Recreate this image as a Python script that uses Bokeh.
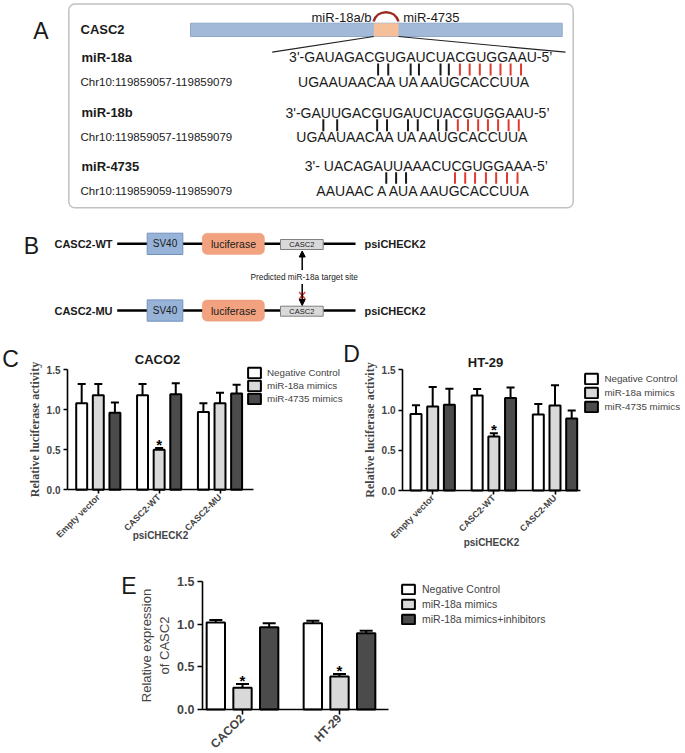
import math
from bokeh.plotting import figure
from bokeh.layouts import column, row
from bokeh.models import (Range1d, BoxAnnotation, Arrow, NormalHead, Label, LinearAxis,
                          FixedTicker, NumeralTickFormatter)
from bokeh.core.properties import value
from bokeh.embed import file_html
from bokeh.resources import INLINE

SANS = "Liberation Sans"
SERIF = "Liberation Serif"

# ======================= DATA =======================
# Panel A
gene_label = "CASC2"
site_labels = ["miR-18a/b", "miR-4735"]
mir_names = ["miR-18a", "miR-18b", "miR-4735"]
mir_loci = ["Chr10:119859057-119859079", "Chr10:119859057-119859079",
            "Chr10:119859059-119859079"]
mir_seqs = ["3'-GAUAGACGUGAUCUACGUGGAAU-5\u2019",
            "3'-GAUUGACGUGAUCUACGUGGAAU-5\u2019",
            "3'- UACAGAUUAAACUCGUGGAAA-5\u2019"]
target_seqs = ["UGAAUAACAA UA AAUGCACCUUA",
               "UGAAUAACAA UA AAUGCACCUUA",
               "AAUAAC A AUA AAUGCACCUUA"]

# Panel B
constructs = ["CASC2-WT", "CASC2-MU"]
vector_name = "psiCHECK2"
element_names = ["SV40", "luciferase", "CASC2"]
site_note = "Predicted miR-18a target site"

# Panels C and D (relative luciferase activity)
luc_groups = ["Empty vector", "CASC2-WT", "CASC2-MU"]
luc_series = ["Negative Control", "miR-18a mimics", "miR-4735 mimics"]
caco2_nc = [1.08, 1.18, 0.97]
caco2_nc_sem = [0.24, 0.14, 0.11]
caco2_mimic = [1.18, 0.50, 1.08]
caco2_mimic_sem = [0.14, 0.02, 0.13]
caco2_4735 = [0.96, 1.19, 1.20]
caco2_4735_sem = [0.13, 0.14, 0.11]
caco2_sig = [1]

ht29_nc = [0.95, 1.18, 0.945]
ht29_nc_sem = [0.11, 0.08, 0.13]
ht29_mimic = [1.045, 0.67, 1.057]
ht29_mimic_sem = [0.24, 0.04, 0.25]
ht29_4735 = [1.065, 1.15, 0.895]
ht29_4735_sem = [0.20, 0.13, 0.10]
ht29_sig = [1]

# Panel E (relative expression of CASC2)
expr_groups = ["CACO2", "HT-29"]
expr_series = ["Negative Control", "miR-18a mimics", "miR-18a mimics+inhibitors"]
expr_nc = [1.02, 1.01]
expr_nc_sem = [0.03, 0.03]
expr_mimic = [0.254, 0.387]
expr_mimic_sem = [0.045, 0.03]
expr_inh = [0.965, 0.894]
expr_inh_sem = [0.045, 0.03]
expr_sig = [0, 1]

y_ticks = [0.0, 0.5, 1.0, 1.5]
bar_colors = ["#ffffff", "#d9d9d9", "#4b4b4b"]

# Arial/Liberation Sans advance widths (em), used to lay out the base-pair ticks
REG_W = {' ': .278, "'": .191, '\u2019': .222, '-': .333, 'A': .667, 'C': .722,
         'G': .778, 'U': .722}
for d in "0123456789":
    REG_W[d] = .556


def text_width(s, size):
    return sum(REG_W.get(c, .556) for c in s) * size


# ======================= PANELS A + B (schematic, page pixels) =======================
top = figure(width=685, height=328, x_range=Range1d(0, 685), y_range=Range1d(328, 0),
             output_backend="svg", toolbar_location=None, min_border=0,
             x_axis_location=None, y_axis_location=None, frame_align=False)
top.grid.visible = False
top.outline_line_color = None


def t(fig, x, y, s, size, align="left", font=SANS, style="normal", color="#1a1a1a"):
    fig.text(x=[x], y=[y], text=[s], text_align=align, text_baseline="middle",
             text_font=value(font), text_font_size=f"{size}px",
             text_font_style=style, text_color=color)


t(top, 40.5, 30, "A", 23, "center")
t(top, 31, 245, "B", 23, "center")

top.add_layout(BoxAnnotation(left=68.3, right=572.7, top=3.5, bottom=207.3,
                             fill_color=None, line_color="#333333", line_width=1.5,
                             border_radius=6, level="underlay"))

top.quad(left=[190], right=[561.7], top=[22.7], bottom=[36], fill_color="#a2b9d8",
         line_color="#8ea8cb", line_width=1)
top.quad(left=[373.3], right=[398], top=[22.7], bottom=[36], fill_color="#f5bf9a",
         line_color=None)
top.bezier(x0=[373.0], y0=[21], x1=[398.0], y1=[21], cx0=[376.5], cy0=[8.5],
           cx1=[394.5], cy1=[8.5], line_color="#9e2a1f", line_width=2.5)
t(top, 80, 29.3, gene_label, 13, "left", SANS, "bold")
t(top, 371, 17.3, site_labels[0], 13, "right")
t(top, 402.7, 17.3, site_labels[1], 13, "left")
top.segment(x0=[271.7, 398], y0=[51.7, 36], x1=[373.3, 565], y1=[36, 51.7],
            line_color="#222222", line_width=1.2)

seq_y = [56.7, 112.3, 165.7]
tgt_y = [81.7, 136.7, 190.5]
seq_x = [(277.5, 563.0), (274.0, 560.0), (295.0, 556.7)]
tgt_x = [(286.0, 542.5), (285.0, 540.0), (310.0, 538.0)]
pair_black = [[374, 385, 409.3, 418.3, 441.7, 450.7],
              [315, 330, 373.3, 384, 406.7, 417.3, 439.3, 448.3],
              [382.7, 393.3, 404]]
pair_red = [[462.7, 473.3, 484.3, 496, 506.7, 517.7, 529],
            [460.7, 471.7, 482.7, 493.3, 504.3, 515.7, 526.7],
            [456.7, 467.7, 478.3, 490, 501, 512.7, 524]]
pair_y = [(63.0, 75.0), (118.7, 130.7), (171.7, 183.3)]
SEQ_SIZE = 14

for r in range(3):
    t(top, 81, seq_y[r], mir_names[r], 13, "left", SANS, "bold")
    t(top, 80, tgt_y[r], mir_loci[r], 11.5, "left")
    cx = (seq_x[r][0] + seq_x[r][1]) / 2
    ratio = text_width(mir_seqs[r], SEQ_SIZE) / (seq_x[r][1] - seq_x[r][0])
    t(top, cx, seq_y[r], mir_seqs[r], SEQ_SIZE, "center")
    ctx = (tgt_x[r][0] + tgt_x[r][1]) / 2
    t(top, ctx, tgt_y[r], target_seqs[r], SEQ_SIZE, "center")
    y0, y1 = pair_y[r]
    for xs, col in ((pair_black[r], "#1a1a1a"), (pair_red[r], "#e23a30")):
        xx = [cx + (x - cx) * ratio for x in xs]
        top.segment(x0=xx, y0=[y0] * len(xx), x1=xx, y1=[y1] * len(xx),
                    line_color=col, line_width=2)

row_y = [243.3, 310.0]
for r, yc in enumerate(row_y):
    t(top, 112, yc, constructs[r], 11, "right", SANS, "bold")
    top.segment(x0=[116.7, 182.3, 264, 322.7], y0=[yc] * 4,
                x1=[146.7, 201.7, 280, 355], y1=[yc] * 4,
                line_color="black", line_width=2.5)
    top.quad(left=[146.7], right=[182.3], top=[yc - 10.6], bottom=[yc + 10.7],
             fill_color="#97b3d8", line_color="#7191bd", line_width=1)
    t(top, 164.5, yc, element_names[0], 10, "center")
    top.add_layout(BoxAnnotation(left=201.7, right=264, top=yc - 10.6, bottom=yc + 10.7,
                                 fill_color="#f2a27f", fill_alpha=1,
                                 line_color="#e38d67", line_width=1,
                                 border_radius=5, level="underlay"))
    t(top, 233, yc, element_names[1], 10.5, "center")
    top.quad(left=[280], right=[322.7], top=[yc - 4.3], bottom=[yc + 5.7],
             fill_color="#d9d9d9", line_color="#808080", line_width=1)
    t(top, 301.3, yc + 0.7, element_names[2], 7.5, "center")
    t(top, 364, yc, vector_name, 11, "left", SANS, "bold")

top.add_layout(Arrow(end=NormalHead(size=6, fill_color="black", line_color="black"),
                     x_start=301.7, y_start=269.5, x_end=301.7, y_end=250.5,
                     line_width=1.5, line_color="black"))
top.add_layout(Arrow(end=NormalHead(size=6, fill_color="black", line_color="black"),
                     x_start=301.7, y_start=283.5, x_end=301.7, y_end=305.0,
                     line_width=1.5, line_color="black"))
top.segment(x0=[298.7, 298.7], y0=[291.5, 298.5], x1=[304.7, 304.7], y1=[298.5, 291.5],
            line_color="#e23a30", line_width=1.5)
t(top, 303.7, 276, site_note, 8.3, "center")


# ======================= BAR PANELS =======================
class Panel:
    """A figure whose frame fills it; data->pixel mapping is set by anchor pixels."""

    def __init__(self, left, topy, w, h, g1_px, unit_x, zero_px, unit_y):
        self.left, self.top, self.w, self.h = left, topy, w, h
        self.g1, self.ux, self.z, self.uy = g1_px, unit_x, zero_px, unit_y
        xs = self.dx(left)
        ys = self.dy(topy + h)
        self.p = figure(width=w, height=h,
                        x_range=Range1d(xs, xs + w / unit_x),
                        y_range=Range1d(ys, ys + h / unit_y),
                        output_backend="svg", toolbar_location=None, min_border=0,
                        x_axis_location=None, y_axis_location=None, frame_align=False)
        self.p.grid.visible = False
        self.p.outline_line_color = None

    def dx(self, px):
        return 1 + (px - self.g1) / self.ux

    def dy(self, py):
        return (self.z - py) / self.uy

    def label(self, px, py, s, size, style="normal", align="center"):
        self.p.add_layout(Label(x=px - self.left, y=self.top + self.h - py,
                                x_units="screen", y_units="screen", text=s,
                                text_font=SANS, text_font_size=f"{size}px",
                                text_font_style=style, text_align=align,
                                text_baseline="middle", text_color="#1a1a1a"))


def draw_bars(p, means, sems, names, step, bar_w, cap_hw, sig_idx, lw=2):
    n = len(means[0])
    base = list(range(1, n + 1))
    k = len(means)
    star_x, star_y = [], []
    for j in range(k):
        off = (j - (k - 1) / 2) * step
        xs = [b + off for b in base]
        tops = [a + e for a, e in zip(means[j], sems[j])]
        p.segment(x0=xs, y0=means[j], x1=xs, y1=tops, line_color="black", line_width=lw)
        p.segment(x0=[x - cap_hw for x in xs], y0=tops, x1=[x + cap_hw for x in xs],
                  y1=tops, line_color="black", line_width=lw)
        p.vbar(x=xs, top=means[j], bottom=0, width=bar_w, fill_color=bar_colors[j],
               line_color="black", line_width=lw, legend_label=names[j])
        if j == 1:
            star_x = [xs[i] for i in sig_idx]
            star_y = [tops[i] for i in sig_idx]
    p.text(x=star_x, y=star_y, text=["*"] * len(star_x), text_align="center",
           text_baseline="bottom", y_offset=5,
           text_font=value(SANS), text_font_style="bold",
           text_font_size="15px", text_color="black")


def add_axes(P, labels, ax_left_px, ax_right_px, ylabel, yfont, ysize, ystyle,
             ytick_size, xtick_size, xlabel=None, tick_out=4, xlabel_standoff=2):
    p = P.p
    xleft, xright = P.dx(ax_left_px), P.dx(ax_right_px)
    ya = LinearAxis(fixed_location=xleft, bounds=(0, 1.5),
                    ticker=FixedTicker(ticks=y_ticks),
                    formatter=NumeralTickFormatter(format="0.0"))
    xa = LinearAxis(fixed_location=0, bounds=(xleft, xright),
                    ticker=FixedTicker(ticks=list(range(1, len(labels) + 1))))
    for ax in (xa, ya):
        ax.axis_line_width = 1.6
        ax.major_tick_line_width = 1.6
        ax.major_tick_out = tick_out
        ax.major_tick_in = 0
        ax.minor_tick_out = 0
        ax.minor_tick_in = 0
        ax.major_label_text_font = SANS
        ax.major_label_text_font_style = "bold"
    xa.major_label_overrides = {i + 1: lab for i, lab in enumerate(labels)}
    xa.major_label_orientation = math.pi / 4
    xa.major_label_text_font_size = xtick_size
    xa.major_label_standoff = 2
    if xlabel:
        xa.axis_label = xlabel
        xa.axis_label_text_font = SANS
        xa.axis_label_text_font_style = "bold"
        xa.axis_label_text_font_size = "10px"
        xa.axis_label_standoff = xlabel_standoff
    ya.major_label_text_font_size = ytick_size
    ya.major_label_standoff = 3
    ya.axis_label = ylabel
    ya.axis_label_text_font = yfont
    ya.axis_label_text_font_style = ystyle
    ya.axis_label_text_font_size = ysize
    ya.axis_label_standoff = 2
    p.add_layout(ya, "left")
    p.add_layout(xa, "below")


def style_legend(P, gx_px, top_px, gw, gh, spacing, standoff, size):
    lg = P.p.legend[0]
    n = len(lg.items)
    height = n * gh + (n - 1) * spacing
    lg.location = (gx_px - P.left, P.top + P.h - top_px - height)
    lg.border_line_color = None
    lg.background_fill_alpha = 0
    lg.padding = 0
    lg.margin = 0
    lg.spacing = spacing
    lg.glyph_width = gw
    lg.glyph_height = gh
    lg.label_height = gh
    lg.label_width = 10
    lg.label_standoff = standoff
    lg.label_text_font = SANS
    lg.label_text_font_size = size


# ---- C: CACO2 ----
C = Panel(0, 328, 344, 230, 97.8, 60.85, 489.3, 80.2)
draw_bars(C.p, [caco2_nc, caco2_mimic, caco2_4735],
          [caco2_nc_sem, caco2_mimic_sem, caco2_4735_sem], luc_series,
          0.273, 0.18, 0.066, caco2_sig)
add_axes(C, luc_groups, 67, 252.7, "Relative luciferase activity", SERIF, "12px",
         "bold", "10px", "9px", vector_name, xlabel_standoff=-16)
style_legend(C, 246, 365.5, 16, 13, 0, 5, "9.8px")
C.label(157, 359, "CACO2", 13, "bold")
C.label(10, 358, "C", 23)

# ---- D: HT-29 ----
D = Panel(344, 328, 341, 230, 432.2, 61.15, 490, 80.47)
draw_bars(D.p, [ht29_nc, ht29_mimic, ht29_4735],
          [ht29_nc_sem, ht29_mimic_sem, ht29_4735_sem], luc_series,
          0.273, 0.18, 0.066, ht29_sig)
add_axes(D, luc_groups, 402, 580, "Relative luciferase activity", SERIF, "12px",
         "bold", "10px", "9px", vector_name, xlabel_standoff=-10)
style_legend(D, 583.4, 371.5, 16, 13, 1, 5, "9.8px")
D.label(485, 362, "HT-29", 13, "bold")
D.label(351, 353.5, "D", 23)

# ---- E: relative expression ----
E = Panel(0, 558, 685, 195, 242, 97, 709, 85.33)
draw_bars(E.p, [expr_nc, expr_mimic, expr_inh],
          [expr_nc_sem, expr_mimic_sem, expr_inh_sem], expr_series,
          0.275, 0.189, 0.067, expr_sig)
add_axes(E, expr_groups, 202, 388, "Relative expression\nof CASC2", SANS, "13px",
         "normal", "12.5px", "12px", None, tick_out=5)
style_legend(E, 400, 583.3, 16, 12, 3, 6, "10.5px")
E.label(128.3, 585, "E", 23)

layout = column(top, row(C.p, D.p), E.p)
open("out.html", "w").write(file_html(layout, INLINE))
